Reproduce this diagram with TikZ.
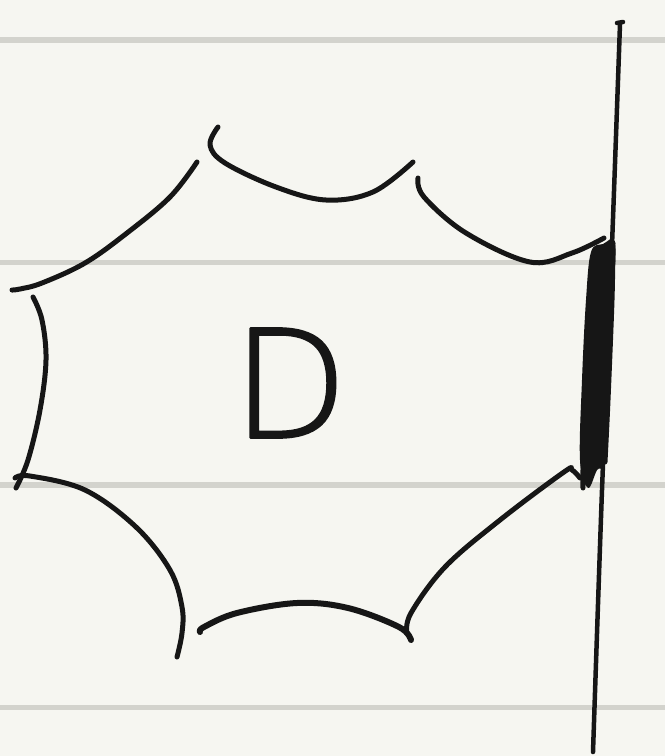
\documentclass[tikz,border=0pt]{standalone}
\usepackage{fontspec}
\newfontfamily\thinfont{DejaVu Sans}[UprightFont={* ExtraLight}, FakeBold=1.6]
\definecolor{paper}{RGB}{246,246,241}
\definecolor{rulegray}{RGB}{211,211,205}
\definecolor{ink}{RGB}{22,22,22}
\begin{document}
\begin{tikzpicture}[x=1pt, y=-1pt, line join=round, line cap=round,
	pen/.style={line width=5pt, ink},
	ruled/.style={line width=5.5pt, rulegray}]

	\fill[paper] (0,0) rectangle (665,756);
	\useasboundingbox (0,0) rectangle (665,756);

	% ruled lines
	\foreach \y in {40, 262.5, 485, 707.5} {
		\draw[ruled, line cap=butt] (0,\y) -- (665,\y);
	}

	% scallops of the boundary
	\draw[pen] plot[smooth, tension=0.6] coordinates {(218,127) (210,145) (225,163) (276,187) (326,200) (373,192) (413,162)};
	\draw[pen] plot[smooth, tension=0.6] coordinates {(197,162) (170,197) (127,233) (85,263) (42,283) (20,289) (12,290)};
	\draw[pen] plot[smooth, tension=0.6] coordinates {(418,178) (424,197) (466,233) (530,262) (572,253) (604,238)};
	\draw[pen] plot[smooth, tension=0.6] coordinates {(33,297) (42,320) (46,360) (40,410) (28,460) (16,488)};
	\draw[pen] plot[smooth, tension=0.6] coordinates {(15,478) (30,476) (85,490) (136,527) (170,570) (182,607) (182,633) (177,657)};
	\draw[pen, line width=6pt] plot[smooth, tension=0.6] coordinates {(200,632) (204,627) (237,613) (297,603) (348,608) (399,627) (411,640)};
	\draw[pen] plot[smooth, tension=0.6] coordinates {(407,633) (411,613) (445,567) (500,520) (564,472) (572,470) (580,478)};

	% the line
	\draw[pen, line width=4.5pt] (617,23) -- (623,22);
	\draw[pen, line width=4.5pt] plot[smooth, tension=0.4] coordinates {(620,24) (612,245) (602,490) (593,752)};

	% thick part along the line
	\fill[ink] plot[smooth cycle, tension=0.6] coordinates {(591,252) (603,244) (615,243) (613,300) (608,400) (604,462) (597,470) (588,488) (580,460) (582,380) (586,300)};
	\draw[pen, line width=5pt] plot[smooth, tension=0.5] coordinates {(597,250) (592,300) (586,400) (583,470) (583,488)};
	\draw[pen, line width=5pt] plot[smooth, tension=0.5] coordinates {(613,243) (612,300) (608,400) (605,462)};

	\node[font=\thinfont\fontsize{150}{150}\selectfont, inner sep=0pt, ink] (d) at (290,383) {D};

\end{tikzpicture}
\end{document}
